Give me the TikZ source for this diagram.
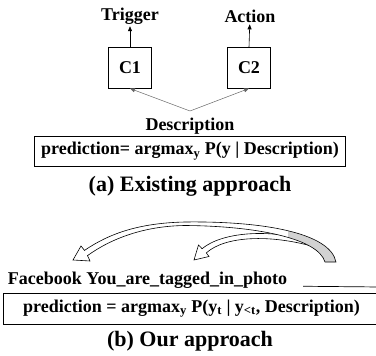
\documentclass[tikz,border=0pt]{standalone}
\usepackage{fontspec}
\setmainfont{Liberation Serif}
\usetikzlibrary{arrows.meta}
% outline of the large curved arrow
\newcommand{\bigribbon}{(87.5,255.6) -- (90,261) -- (73,260) -- (81,246) -- (84.5,250.4)
	.. controls (110,233) and (140,223) .. (185,222)
	.. controls (260,221) and (330,232) .. (336,262) -- (325,262)
	.. controls (318,238) and (255,226) .. (185,225.5)
	.. controls (145,226) and (112,238) .. cycle}
\begin{document}
\begin{tikzpicture}[x=1pt, y=-1pt, font=\bfseries\fontsize{18}{21}\selectfont, every node/.style={inner sep=2pt, outer sep=0pt}, box/.style={draw, line width=0.8pt, minimum width=43pt, minimum height=41pt}, up/.style={-{Triangle[length=5pt, width=4pt]}, line width=0.6pt}, feed/.style={-{Triangle[length=5pt, width=4pt]}, draw=black!60, line width=0.5pt}, caption/.style={font=\bfseries\fontsize{22}{26}\selectfont}, ribbon/.style={line width=0.6pt, line join=miter}, line join=miter]
	\useasboundingbox (0,0) rectangle (376,356);

	% (a) Existing approach
	\node (trigger) at (130, 16) {Trigger};
	\node (action) at (250, 16) {Action};
	\node[box] (c1) at (130, 68) {C1};
	\node[box] (c2) at (249, 68) {C2};
	\node (desc) at (190, 126) {Description};
	\coordinate (src) at (190, 111);
	\node[draw, line width=0.8pt, minimum width=311pt, minimum height=30pt] (preda) at (190, 151) {prediction= argmax\textsubscript{y} P(y | Description)};
	\node[caption] (capa) at (190, 186) {(a) Existing approach};
	\draw[up] (c1.north) -- (trigger);
	\draw[up] (c2.north) -- (action);
	\draw[feed] (src) -- (c1.south);
	\draw[feed] (src) -- (c2.south);

	% (b) Our approach
	\filldraw[ribbon, fill=white] (206.3,252.9) -- (209,256.5) -- (194,260) -- (198.5,245) -- (202.1,248.7)
		.. controls (222,232) and (270,228) .. (315,242) -- (315,247)
		.. controls (270,234) and (225,236) .. cycle;
	\fill[white] \bigribbon;
	\begin{scope}
		\clip (288,200) rectangle (340,270);
		\fill[gray!35] \bigribbon;
	\end{scope}
	\draw[ribbon] \bigribbon;
	\node[anchor=west] (fb) at (6, 280) {Facebook You\_are\_tagged\_in\_photo};
	\coordinate (blank) at (380, 287);
	\draw[line width=0.7pt] ([xshift=14pt, yshift=-2pt]fb.base east) -- (blank);
	\node[draw, line width=0.8pt, minimum width=377pt, minimum height=31pt] (predb) at (191.5, 308.5) {prediction = argmax\textsubscript{y} P(y\textsubscript{t} | y\textsubscript{<t}, Description)};
	\node[caption] (capb) at (190, 341) {(b) Our approach};
\end{tikzpicture}
\end{document}
